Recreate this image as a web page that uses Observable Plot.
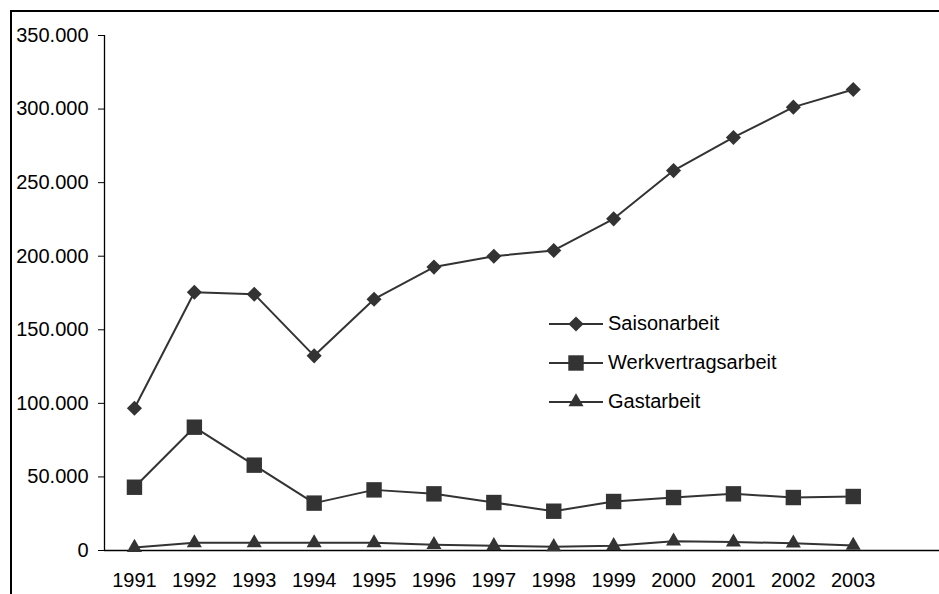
<!DOCTYPE html>
<html><head><meta charset="utf-8">
<script src="https://cdn.jsdelivr.net/npm/d3@7"></script>
<script src="https://cdn.jsdelivr.net/npm/@observablehq/plot@0.6"></script>
<style>
html,body{margin:0;padding:0;background:#fff;overflow:hidden;}
#wrap{position:relative;width:939px;height:594px;overflow:hidden;font-family:"Liberation Sans",Arial,sans-serif;}
#border{position:absolute;left:10px;top:10px;width:2000px;height:2000px;border-left:2px solid #000;border-top:2px solid #000;}
#chart{position:absolute;left:0;top:0;}
#legend{position:absolute;left:549px;top:304px;}
.row{display:flex;align-items:center;height:39.2px;font-size:20px;color:#000;}
.row svg{display:block;}
.row span{margin-left:5px;}
</style></head><body>
<div id="wrap"><div id="border"></div><div id="chart"></div><div id="legend"></div></div>
<script>
const years = [1991,1992,1993,1994,1995,1996,1997,1998,1999,2000,2001,2002,2003];
const saisonarbeit = [96700,175500,174200,132300,170800,192600,200000,203900,225400,258200,280700,301300,313300];
const werkvertragsarbeit = [43000,83800,58000,32200,41200,38500,32600,26700,33300,36000,38500,36000,36700];
const gastarbeit = [2000,5200,5200,5200,5200,3900,3200,2500,3200,6300,5700,5000,3400];
const seriesNames = ["Saisonarbeit","Werkvertragsarbeit","Gastarbeit"];
const seriesValues = [saisonarbeit, werkvertragsarbeit, gastarbeit];
const yTicks = [0,50000,100000,150000,200000,250000,300000,350000];

const symbols = {Saisonarbeit: "diamond2", Werkvertragsarbeit: "square", Gastarbeit: "triangle"};
const radii = {Saisonarbeit: 6.8, Werkvertragsarbeit: 8.7, Gastarbeit: 5.6};
const d3sym = {Saisonarbeit: d3.symbolDiamond2, Werkvertragsarbeit: d3.symbolSquare, Gastarbeit: d3.symbolTriangle};

const data = [];
seriesNames.forEach((name, i) => years.forEach((y, j) => data.push({series: name, year: y, value: seriesValues[i][j]})));

const de = d3.formatLocale({decimal: ",", thousands: ".", grouping: [3], currency: ["", " €"]});
const fmt = de.format(",d");
const ink = "#333";
const xDomain = [years[0] - 0.5, 2004.44];
const yDomain = [yTicks[0], yTicks[yTicks.length - 1]];

const marks = [
  Plot.ruleX([xDomain[0]], {y1: yDomain[0], y2: yDomain[1], stroke: "#000", strokeWidth: 1.3}),
  Plot.ruleY([0], {stroke: "#000", strokeWidth: 1.3}),
  Plot.axisY({ticks: yTicks, tickFormat: fmt, tickSize: 6, tickPadding: 10, fontSize: 20, stroke: "#000", label: null}),
  Plot.axisX({ticks: years, tickFormat: d => String(d), tickSize: 0, tickPadding: 22, fontSize: 20, label: null})
];
seriesNames.forEach(name => {
  const sub = data.filter(d => d.series === name);
  marks.push(Plot.line(sub, {x: "year", y: "value", stroke: ink, strokeWidth: 2}));
  marks.push(Plot.dot(sub, {x: "year", y: "value", symbol: () => symbols[name], r: radii[name], fill: ink, stroke: "none"}));
});

const chart = Plot.plot({
  width: 939, height: 594,
  marginLeft: 104, marginRight: 0, marginTop: 35, marginBottom: 44,
  style: {fontFamily: '"Liberation Sans", Arial, sans-serif', fontSize: "20px", color: "#000", background: "transparent", overflow: "visible"},
  x: {type: "linear", domain: xDomain, axis: null, label: null},
  y: {domain: yDomain, axis: null, label: null},
  symbol: {type: "identity"},
  marks
});
document.getElementById("chart").appendChild(chart);

// legend
const leg = document.getElementById("legend");
seriesNames.forEach(name => {
  const row = document.createElement("div");
  row.className = "row";
  const size = Math.PI * radii[name] * radii[name];
  const path = d3.symbol(d3sym[name], size)();
  row.innerHTML = `<svg width="54" height="20"><line x1="0" x2="54" y1="10" y2="10" stroke="${ink}" stroke-width="2"/><path d="${path}" transform="translate(27,10)" fill="${ink}"/></svg><span>${name}</span>`;
  leg.appendChild(row);
});
</script>
</body></html>
